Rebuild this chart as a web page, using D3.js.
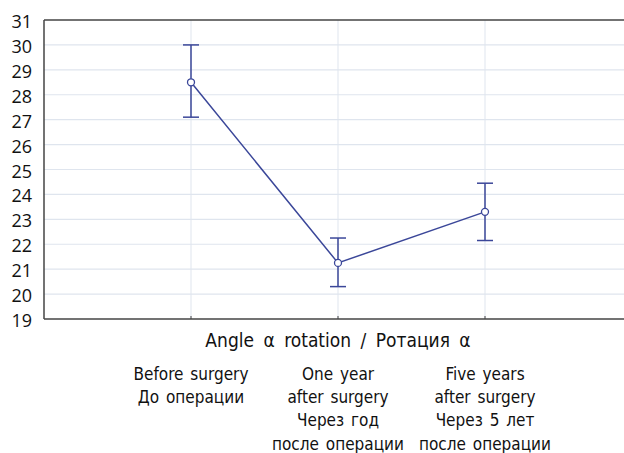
<!DOCTYPE html>
<html lang="en">
<head>
  <meta charset="UTF-8" />
  <title>Angle α rotation</title>
  <script src="https://cdn.jsdelivr.net/npm/d3@7/dist/d3.min.js"></script>
  <style>
    body { margin: 0; background: #fff; }
    text { font-family: "Open Sans", "Noto Sans", sans-serif; fill: #111; }
    .lbl { font-family: "DejaVu Sans Condensed", "Open Sans", sans-serif; font-stretch: condensed; }
  </style>
</head>
<body>
  <svg width="624" height="453"></svg>

  <script>
    // data
    const categories = ['before', 'oneYear', 'fiveYears'];
    const categoryLabels = [
      ['Before surgery', 'До операции'],
      ['One year', 'after surgery', 'Через год', 'после операции'],
      ['Five years', 'after surgery', 'Через 5 лет', 'после операции'],
    ];
    const means = [28.5, 21.25, 23.3];
    const upper = [30.0, 22.25, 24.45];
    const lower = [27.1, 20.3, 22.15];
    const yTicks = d3.range(19, 32);
    const axisTitle = 'Angle α rotation / Ротация α';

    const svg = d3.select('svg');
    const plotL = 44, plotT = 20, plotB = 319, plotR = 632;
    const lineColor = '#3b4799';

    const x = d3.scalePoint().domain(categories).range([plotL, plotR]).padding(1);
    const y = d3.scaleLinear().domain([19, 31]).range([plotB, plotT]);

    // grid
    svg.append('g')
      .selectAll('line')
      .data(yTicks.slice(1, -1))
      .enter()
      .append('line')
      .attr('x1', plotL).attr('x2', plotR)
      .attr('y1', (d) => y(d)).attr('y2', (d) => y(d))
      .attr('stroke', '#dfe5ee').attr('stroke-width', 1.2);

    svg.append('g')
      .selectAll('line')
      .data(categories)
      .enter()
      .append('line')
      .attr('x1', (d) => x(d)).attr('x2', (d) => x(d))
      .attr('y1', plotT).attr('y2', plotB)
      .attr('stroke', '#dfe5ee').attr('stroke-width', 1);

    // frame
    svg.append('line').attr('x1', plotL).attr('x2', plotR).attr('y1', plotT).attr('y2', plotT)
      .attr('stroke', '#444').attr('stroke-width', 1.5);
    svg.append('line').attr('x1', plotL).attr('x2', plotR).attr('y1', plotB).attr('y2', plotB)
      .attr('stroke', '#444').attr('stroke-width', 1.5);
    svg.append('line').attr('x1', plotL).attr('x2', plotL).attr('y1', plotT).attr('y2', plotB)
      .attr('stroke', '#444').attr('stroke-width', 1.5);

    // y labels
    svg.append('g')
      .selectAll('text')
      .data(yTicks)
      .enter()
      .append('text')
      .attr('x', 32)
      .attr('y', (d) => y(d) + 1)
      .attr('text-anchor', 'end')
      .attr('dominant-baseline', 'central')
      .style('font-size', '18px')
      .text((d) => d);

    // bottom ticks
    svg.append('g')
      .selectAll('line')
      .data(categories)
      .enter()
      .append('line')
      .attr('x1', (d) => x(d)).attr('x2', (d) => x(d))
      .attr('y1', plotB - 3).attr('y2', plotB)
      .attr('stroke', '#444');

    // error bars
    const bars = svg.append('g').attr('stroke', lineColor).attr('stroke-width', 1.5);
    categories.forEach((c, i) => {
      bars.append('line').attr('x1', x(c)).attr('x2', x(c)).attr('y1', y(upper[i])).attr('y2', y(lower[i]));
      bars.append('line').attr('x1', x(c) - 8).attr('x2', x(c) + 8).attr('y1', y(upper[i])).attr('y2', y(upper[i]));
      bars.append('line').attr('x1', x(c) - 8).attr('x2', x(c) + 8).attr('y1', y(lower[i])).attr('y2', y(lower[i]));
    });

    // mean line
    const line = d3.line().x((d, i) => x(categories[i])).y((d) => y(d));
    svg.append('path')
      .datum(means)
      .attr('d', line)
      .attr('fill', 'none')
      .attr('stroke', lineColor)
      .attr('stroke-width', 1.5);

    svg.append('g')
      .selectAll('circle')
      .data(means)
      .enter()
      .append('circle')
      .attr('cx', (d, i) => x(categories[i]))
      .attr('cy', (d) => y(d))
      .attr('r', 3.5)
      .attr('fill', '#fff')
      .attr('stroke', lineColor)
      .attr('stroke-width', 1.3);

    // axis title
    svg.append('text')
      .attr('class', 'lbl')
      .attr('x', x(categories[1]))
      .attr('y', 340)
      .attr('text-anchor', 'middle')
      .attr('dominant-baseline', 'central')
      .style('font-size', '19px')
      .style('word-spacing', '4px')
      .text(axisTitle);

    // category labels
    categories.forEach((c, i) => {
      svg.append('text')
        .attr('class', 'lbl')
        .attr('text-anchor', 'middle')
        .style('font-size', '17px')
        .style('word-spacing', '2px')
        .selectAll('tspan')
        .data(categoryLabels[i])
        .enter()
        .append('tspan')
        .attr('x', x(c))
        .attr('y', (d, j) => 374 + j * 23.2)
        .attr('dominant-baseline', 'central')
        .text((d) => d);
    });
  </script>
</body>
</html>
